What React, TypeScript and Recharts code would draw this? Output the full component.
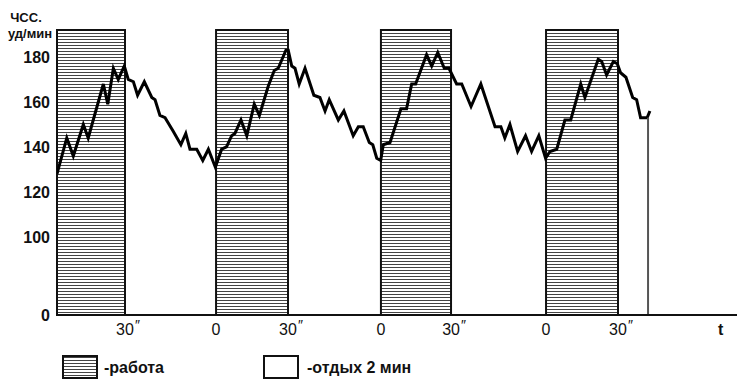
import { ComposedChart, Line, XAxis, YAxis, ReferenceArea, Legend } from 'recharts';

// heart rate trace, x in compressed seconds (work = 30 units), y in beats/min
const hrTime = [
  0, 4.2, 7.0, 11.3, 13.4, 19.9, 21.8, 24.2, 26.3, 28.9, 30.6, 32.8, 34.6, 37.5, 40.7, 42.1, 44.2, 46.4,
  49.9, 53.2, 55.3, 57.1, 60.0, 62.6, 65.0, 68.0,
  70.7, 72.8, 75.0, 76.4, 79.0, 81.5, 84.7, 86.9, 90.7, 93.3, 95.0, 98.3, 99.3, 100.8, 102.2, 104.0,
  106.5, 110.3, 112.9, 115.1, 116.9, 120.8, 123.2, 127.2, 129.4, 131.5, 134.1, 135.6, 137.3, 139.0,
  140.1, 143.0, 147.7, 150.1, 152.3, 154.0, 158.7, 160.9, 163.5, 166.3, 168.3, 171.6, 173.8, 177.8,
  182.0, 188.1, 190.6, 192.3, 194.5, 197.8, 201.2, 203.8, 206.9, 209.8,
  211.7, 214.6, 218.1, 220.6, 224.9, 226.7, 232.4, 233.9, 236.0, 238.9, 240.6, 242.0, 244.3, 247.2,
  248.9, 250.6, 253.4, 254.6,
];
const hrValue = [
  128, 144, 136, 150, 144, 168, 159, 175, 170, 176, 170, 169, 163, 169, 162, 161, 154, 153,
  147, 141, 146, 139, 139, 134, 139, 131,
  139, 140, 145, 146, 152, 145, 159, 154, 167, 174, 175, 183, 183, 176, 175, 168,
  175, 163, 162, 156, 161, 152, 156, 145, 149, 149, 142, 141, 135, 134,
  141, 142, 157, 157, 168, 168, 181, 176, 182, 175, 175, 168, 168, 158,
  168, 149, 149, 144, 150, 138, 145, 138, 145, 135,
  138, 139, 152, 152, 168, 162, 179, 178, 172, 178, 177, 173, 171, 162,
  161, 153, 153, 156,
];
const dropTime = [253.8, 253.8];
const dropValue = [153, 0];

const workStart = [0, 68.3, 139.1, 210];
const workEnd = [29.2, 99.2, 169.2, 240.9];

const xTickPos = [29.2, 68.3, 99.2, 139.1, 169.2, 210, 240.9, 285];
const xTickText = ['30″', '0', '30″', '0', '30″', '0', '30″', 't'];
const yTickValues = [0, 100, 120, 140, 160, 180];

const BREAK = 65.3;
const Y_MAX = 192;
const toPlot = (v: number) => (v < 100 ? BREAK : v);

const hrData = hrTime.map((t, i) => ({ x: t, y: toPlot(hrValue[i]) }));
const dropData = dropTime.map((t, i) => ({ x: t, y: toPlot(dropValue[i]) }));

const FONT = "'Liberation Sans', Arial, sans-serif";

function XTick({ x, y, payload }: any) {
  const i = xTickPos.indexOf(payload.value);
  const label = xTickText[i] ?? '';
  const base = label.replace('″', '');
  const prime = label.endsWith('″');
  return (
    <g>
      <text x={x} y={y + 18} textAnchor="middle" fontFamily={FONT} fontSize={16}
        fontWeight={base === 't' ? 'bold' : 'normal'} fill="#111">
        {base}
      </text>
      {prime && (
        <text x={x + 10} y={y + 13} fontFamily={FONT} fontSize={14} fill="#111">″</text>
      )}
    </g>
  );
}

function AxisTitle() {
  return (
    <g fontFamily={FONT} fontWeight="bold" fill="#111">
      <text x={26} y={22} textAnchor="middle" fontSize={13}>ЧСС.</text>
      <text x={30} y={38} textAnchor="middle" fontSize={13}>уд/мин</text>
    </g>
  );
}

function LegendBox() {
  return (
    <svg width={739} height={35}>
      <defs>
        <pattern id="hatchLegend" patternUnits="userSpaceOnUse" width={8} height={3}>
          <rect x={0} y={0} width={8} height={1} fill="#444" />
        </pattern>
      </defs>
      <rect x={63} y={11} width={34} height={22} fill="url(#hatchLegend)" stroke="#111" strokeWidth={2} />
      <text x={104} y={28} fontFamily={FONT} fontWeight="bold" fontSize={16} fill="#111">-работа</text>
      <rect x={264} y={11} width={34} height={22} fill="#fff" stroke="#111" strokeWidth={2} />
      <text x={307} y={28} fontFamily={FONT} fontWeight="bold" fontSize={16} fill="#111">-отдых 2 мин</text>
    </svg>
  );
}

export default function App() {
  return (
    <div style={{ position: 'absolute', left: 0, top: 0, background: '#fff' }}>
      <ComposedChart width={739} height={380} margin={{ top: 30, right: 2, bottom: 35, left: 0 }}>
        <defs>
          <pattern id="hatch" patternUnits="userSpaceOnUse" width={8} height={3}>
            <rect x={0} y={0} width={8} height={1} fill="#444" />
          </pattern>
        </defs>
        <XAxis
          type="number"
          dataKey="x"
          domain={[0, 292]}
          ticks={xTickPos}
          interval={0}
          allowDataOverflow
          height={30}
          tickSize={0}
          tickLine={false}
          axisLine={{ stroke: '#111', strokeWidth: 2 }}
          tick={<XTick />}
        />
        <YAxis
          type="number"
          domain={[BREAK, Y_MAX]}
          ticks={yTickValues.map(toPlot)}
          interval={0}
          allowDataOverflow
          width={57}
          tickSize={0}
          tickMargin={7}
          axisLine={false}
          tickLine={false}
          tickFormatter={(v: number) => (v === BREAK ? '0' : String(v))}
          tick={{ fontFamily: FONT, fontSize: 16, fontWeight: 'bold', fill: '#111' }}
          label={{ content: () => <AxisTitle /> }}
        />
        {workStart.map((s, i) => (
          <ReferenceArea
            key={i}
            x1={s}
            x2={workEnd[i]}
            y1={BREAK}
            y2={Y_MAX}
            fill="url(#hatch)"
            fillOpacity={1}
            stroke="#111"
            strokeWidth={2}
            ifOverflow="visible"
          />
        ))}
        <Line
          data={hrData}
          dataKey="y"
          type="linear"
          stroke="#000"
          strokeWidth={3}
          strokeLinejoin="miter"
          dot={false}
          isAnimationActive={false}
        />
        <Line
          data={dropData}
          dataKey="y"
          type="linear"
          stroke="#555"
          strokeWidth={2}
          dot={false}
          isAnimationActive={false}
        />
        <Legend
          layout="horizontal"
          verticalAlign="middle"
          align="center"
          wrapperStyle={{ left: 0, top: 345, width: 739 }}
          content={() => <LegendBox />}
        />
      </ComposedChart>
    </div>
  );
}
